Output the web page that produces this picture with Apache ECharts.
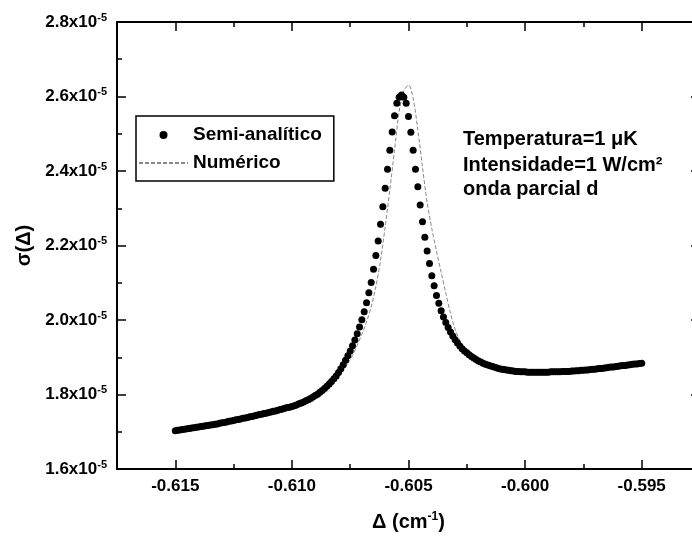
<!DOCTYPE html>
<html>
<head>
<meta charset="UTF-8">
<title>sigma delta</title>
<script src="https://cdn.jsdelivr.net/npm/echarts@6/dist/echarts.min.js"></script>
<style>
  html, body { margin: 0; padding: 0; background: #fff; }
  #main { width: 692px; height: 538px; }
</style>
</head>
<body>
<div id="main"></div>
<script>
// detuning (cm^-1) and cross section (units of 1e-5)
let semiX = [
  -0.6150,-0.6149,-0.6148,-0.6147,-0.6146,-0.6145,-0.6144,-0.6143,-0.6142,-0.6141,
  -0.6140,-0.6139,-0.6138,-0.6137,-0.6136,-0.6135,-0.6134,-0.6133,-0.6132,-0.6131,
  -0.6130,-0.6129,-0.6128,-0.6127,-0.6126,-0.6125,-0.6124,-0.6123,-0.6122,-0.6121,
  -0.6120,-0.6119,-0.6118,-0.6117,-0.6116,-0.6115,-0.6114,-0.6113,-0.6112,-0.6111,
  -0.6110,-0.6109,-0.6108,-0.6107,-0.6106,-0.6105,-0.6104,-0.6103,-0.6102,-0.6101,
  -0.6100,-0.6099,-0.6098,-0.6097,-0.6096,-0.6095,-0.6094,-0.6093,-0.6092,-0.6091,
  -0.6090,-0.6089,-0.6088,-0.6087,-0.6086,-0.6085,-0.6084,-0.6083,-0.6082,-0.6081,
  -0.6080,-0.6079,-0.6078,-0.6077,-0.6076,-0.6075,-0.6074,-0.6073,-0.6072,-0.6071,
  -0.6070,-0.6069,-0.6068,-0.6067,-0.6066,-0.6065,-0.6064,-0.6063,-0.6062,-0.6061,
  -0.6060,-0.6059,-0.6058,-0.6057,-0.6056,-0.6055,-0.6054,-0.6053,-0.6052,-0.6051,
  -0.6050,-0.6049,-0.6048,-0.6047,-0.6046,-0.6045,-0.6044,-0.6043,-0.6042,-0.6041,
  -0.6040,-0.6039,-0.6038,-0.6037,-0.6036,-0.6035,-0.6034,-0.6033,-0.6032,-0.6031,
  -0.6030,-0.6029,-0.6028,-0.6027,-0.6026,-0.6025,-0.6024,-0.6023,-0.6022,-0.6021,
  -0.6020,-0.6019,-0.6018,-0.6017,-0.6016,-0.6015,-0.6014,-0.6013,-0.6012,-0.6011,
  -0.6010,-0.6009,-0.6008,-0.6007,-0.6006,-0.6005,-0.6004,-0.6003,-0.6002,-0.6001,
  -0.6000,-0.5999,-0.5998,-0.5997,-0.5996,-0.5995,-0.5994,-0.5993,-0.5992,-0.5991,
  -0.5990,-0.5989,-0.5988,-0.5987,-0.5986,-0.5985,-0.5984,-0.5983,-0.5982,-0.5981,
  -0.5980,-0.5979,-0.5978,-0.5977,-0.5976,-0.5975,-0.5974,-0.5973,-0.5972,-0.5971,
  -0.5970,-0.5969,-0.5968,-0.5967,-0.5966,-0.5965,-0.5964,-0.5963,-0.5962,-0.5961,
  -0.5960,-0.5959,-0.5958,-0.5957,-0.5956,-0.5955,-0.5954,-0.5953,-0.5952,-0.5951,
  -0.5950
];
let semiY = [
  1.703,1.704,1.705,1.706,1.707,1.708,1.709,1.710,1.711,1.712,
  1.713,1.714,1.715,1.716,1.717,1.718,1.719,1.720,1.721,1.723,
  1.724,1.725,1.726,1.728,1.729,1.730,1.732,1.733,1.734,1.736,
  1.737,1.738,1.740,1.741,1.743,1.744,1.746,1.747,1.749,1.750,
  1.752,1.753,1.755,1.756,1.758,1.760,1.761,1.763,1.765,1.766,
  1.768,1.770,1.772,1.775,1.777,1.780,1.783,1.786,1.789,1.793,
  1.797,1.801,1.806,1.811,1.816,1.822,1.828,1.835,1.842,1.850,
  1.859,1.869,1.880,1.892,1.904,1.917,1.931,1.946,1.963,1.981,
  2.001,2.022,2.046,2.073,2.101,2.136,2.173,2.212,2.257,2.304,
  2.354,2.405,2.456,2.505,2.548,2.582,2.598,2.604,2.598,2.582,
  2.546,2.504,2.456,2.405,2.358,2.309,2.264,2.222,2.185,2.152,
  2.119,2.092,2.066,2.045,2.025,2.008,1.993,1.980,1.968,1.957,
  1.947,1.938,1.930,1.923,1.917,1.912,1.907,1.902,1.898,1.894,
  1.890,1.887,1.884,1.881,1.879,1.877,1.875,1.873,1.871,1.869,
  1.868,1.867,1.866,1.865,1.864,1.863,1.862,1.862,1.861,1.861,
  1.861,1.860,1.860,1.860,1.860,1.860,1.860,1.860,1.860,1.860,
  1.860,1.861,1.861,1.861,1.861,1.861,1.862,1.862,1.862,1.862,
  1.863,1.863,1.864,1.864,1.865,1.865,1.866,1.866,1.867,1.868,
  1.868,1.869,1.870,1.870,1.871,1.872,1.873,1.874,1.874,1.875,
  1.876,1.877,1.878,1.878,1.879,1.880,1.881,1.882,1.882,1.883,
  1.884
];
let numX = [
  -0.6150,-0.6140,-0.6130,-0.6120,-0.6110,-0.6100,-0.6090,-0.6085,-0.6080,
  -0.6078,-0.6076,-0.6074,-0.6072,-0.6070,-0.6068,-0.6066,-0.6064,-0.6062,-0.6060,
  -0.6058,-0.6056,-0.6054,-0.6052,-0.6050,-0.6048,-0.6046,-0.6044,-0.6042,-0.6040,
  -0.6038,-0.6036,-0.6034,-0.6032,-0.6030,-0.6028,-0.6026,-0.6024,-0.6022,-0.6020,
  -0.6015,-0.6010,-0.6005,-0.6000,-0.5995,-0.5990,-0.5985,-0.5980,-0.5975,-0.5970,
  -0.5965,-0.5960,-0.5955,-0.5950
];
let numY = [
  1.703,1.713,1.724,1.737,1.752,1.768,1.795,1.817,1.852,
  1.866,1.883,1.905,1.932,1.962,1.995,2.035,2.090,2.160,2.250,
  2.350,2.455,2.560,2.615,2.631,2.595,2.510,2.410,2.315,2.245,
  2.185,2.128,2.072,2.018,1.975,1.945,1.923,1.907,1.896,1.889,
  1.877,1.869,1.864,1.861,1.860,1.860,1.861,1.863,1.865,1.868,
  1.872,1.876,1.880,1.884
];
let xMajor = [-0.615, -0.610, -0.605, -0.600, -0.595];
let xMinor = [-0.6175, -0.6125, -0.6075, -0.6025, -0.5975];

const font = "'Liberation Sans', Arial, sans-serif";
const xMin = -0.6175, xMax = -0.5925;

let myChart = echarts.init(document.getElementById('main'));

function xAx(pos, ticks, len, labels, line) {
    return {
        type: 'value', position: pos, min: xMin, max: xMax,
        axisLine: {show: line, onZero: false, lineStyle: {color: '#000', width: 2}},
        axisTick: {inside: true, length: len, customValues: ticks, lineStyle: {color: '#000', width: 1.5}},
        axisLabel: labels ? {
            customValues: xMajor, margin: 9, color: '#000', fontSize: 17, fontWeight: 'bold', fontFamily: font,
            formatter: v => v.toFixed(3)
        } : {show: false},
        splitLine: {show: false}
    };
}

function yAx(pos, labels) {
    return {
        type: 'value', position: pos, min: 1.6, max: 2.8, interval: 0.2,
        axisLine: {show: true, onZero: false, lineStyle: {color: '#000', width: 2}},
        axisTick: {inside: true, length: 9, lineStyle: {color: '#000', width: 1.5}},
        minorTick: {show: true, splitNumber: 2, length: 5, lineStyle: {color: '#000', width: 1.5}},
        axisLabel: labels ? {
            margin: 10,
            formatter: v => '{b|' + v.toFixed(1) + 'x10}{s|-5}',
            rich: {
                b: {fontSize: 17, fontWeight: 'bold', fontFamily: font, color: '#000', lineHeight: 20},
                s: {fontSize: 11, fontWeight: 'bold', fontFamily: font, color: '#000', verticalAlign: 'top', lineHeight: 12}
            }
        } : {show: false},
        splitLine: {show: false}
    };
}

let xAxes = [
    xAx('bottom', xMajor, 9, true, true),
    xAx('bottom', xMinor, 5, false, false),
    xAx('top', xMajor, 9, false, true),
    xAx('top', xMinor, 5, false, false)
];
xAxes[0].name = '{t|Δ (cm}{s|-1}{t|)}';
xAxes[0].nameLocation = 'middle';
xAxes[0].nameGap = 42;
xAxes[0].nameTextStyle = {
    rich: {
        t: {fontSize: 20, fontWeight: 'bold', fontFamily: font, color: '#000', lineHeight: 22},
        s: {fontSize: 12, fontWeight: 'bold', fontFamily: font, color: '#000', verticalAlign: 'top', lineHeight: 12}
    }
};

let yAxes = [yAx('left', true), yAx('right', false)];
yAxes[0].name = 'σ(Δ)';
yAxes[0].nameLocation = 'middle';
yAxes[0].nameRotate = 90;
yAxes[0].nameGap = 76;
yAxes[0].nameTextStyle = {fontSize: 20, fontWeight: 'bold', fontFamily: font, color: '#000'};

let semiData = semiX.map((x, i) => [x, semiY[i]]);
let numData = numX.map((x, i) => [x, numY[i]]);

let option = {
    animation: false,
    backgroundColor: '#fff',
    grid: {left: 117, top: 22, right: -8, bottom: 69, outerBoundsMode: 'none'},
    xAxis: xAxes,
    yAxis: yAxes,
    legend: {
        orient: 'vertical', left: 136, top: 116,
        borderColor: '#000', borderWidth: 1.5, borderRadius: 0,
        padding: [9, 12, 8, 2],
        itemWidth: 49, itemHeight: 8, itemGap: 8,
        textStyle: {fontSize: 19, fontWeight: 'bold', fontFamily: font, color: '#000', lineHeight: 20},
        data: [
            {name: 'Semi-analítico', icon: 'circle'},
            {name: 'Numérico', itemStyle: {opacity: 0}}
        ]
    },
    graphic: [
        {type: 'text', left: 463, top: 129, style: {text: 'Temperatura=1 μK', font: 'bold 20px ' + font, fill: '#000'}},
        {type: 'text', left: 463, top: 155, style: {text: 'Intensidade=1 W/cm²', font: 'bold 20px ' + font, fill: '#000'}},
        {type: 'text', left: 463, top: 179, style: {text: 'onda parcial d', font: 'bold 20px ' + font, fill: '#000'}}
    ],
    series: [
        {
            name: 'Numérico', type: 'line', data: numData, symbol: 'none', smooth: 0.3,
            lineStyle: {color: '#888', width: 1, type: [4, 2]}, itemStyle: {color: '#888'}, z: 2
        },
        {
            name: 'Semi-analítico', type: 'scatter', data: semiData, symbolSize: 7,
            itemStyle: {color: '#000', opacity: 1}, z: 3
        }
    ]
};
myChart.setOption(option);
</script>
</body>
</html>
